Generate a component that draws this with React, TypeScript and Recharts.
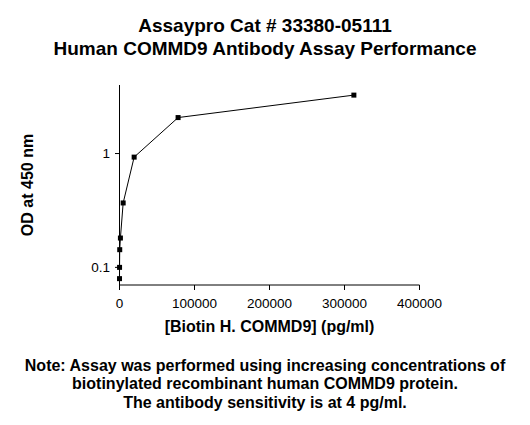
import React from 'react';
import { LineChart, Line, XAxis, YAxis, Label } from 'recharts';

const concentrations = [19, 76, 305, 1221, 4883, 19531, 78125, 312500];
const odValues = [0.0796, 0.1, 0.143, 0.181, 0.368, 0.93, 2.07, 3.26];
const xTicks = [0, 100000, 200000, 300000, 400000];
const yTicks = [0.1, 1];

const titleLines = ['Assaypro Cat # 33380-05111', 'Human COMMD9 Antibody Assay Performance'];
const noteLines = [
  'Note: Assay was performed using increasing concentrations of',
  'biotinylated recombinant human COMMD9 protein.',
  'The antibody sensitivity is at 4 pg/ml.',
];
const xTitle = '[Biotin H. COMMD9] (pg/ml)';
const yTitle = 'OD at 450 nm';

const data = concentrations.map((c, i) => ({ conc: c, od: odValues[i] }));

const FONT = "Arial, 'Liberation Sans', sans-serif";

const SquareDot = (props: any) => {
  const { cx, cy } = props;
  if (cx == null || cy == null) return null;
  return <rect x={cx - 2.5} y={cy - 2.5} width={5} height={5} fill="#000" />;
};

export default function App() {
  return (
    <div style={{ position: 'absolute', left: 0, top: 0, width: 530, height: 425, background: '#fff', fontFamily: FONT }}>
      <div
        style={{
          position: 'absolute', left: 0, top: 13.5, width: 530, textAlign: 'center',
          fontSize: 19, fontWeight: 'bold', lineHeight: '23px', color: '#000',
        }}
      >
        {titleLines.map((t) => (
          <div key={t}>{t}</div>
        ))}
      </div>
      <LineChart
        width={530}
        height={425}
        data={data}
        margin={{ top: 85, right: 110.5, bottom: 110, left: 59.5 }}
      >
        <XAxis
          dataKey="conc"
          type="number"
          domain={[0, 400000]}
          ticks={xTicks}
          height={30}
          axisLine={{ stroke: '#000' }}
          tickLine={{ stroke: '#000' }}
          tickSize={5}
          tickMargin={8}
          tick={{ fill: '#000', fontSize: 13.5, fontFamily: FONT }}
          interval={0}
        >
          <Label
            content={({ viewBox }: any) => (
              <text
                x={viewBox.x + viewBox.width / 2}
                y={331.7}
                textAnchor="middle"
                fontSize={16}
                fontWeight="bold"
                fontFamily={FONT}
                fill="#000"
              >
                {xTitle}
              </text>
            )}
          />
        </XAxis>
        <YAxis
          dataKey="od"
          type="number"
          scale="log"
          domain={[0.07, 4]}
          allowDataOverflow
          ticks={yTicks}
          width={60}
          axisLine={{ stroke: '#000' }}
          tickLine={{ stroke: '#000' }}
          tickSize={4.5}
          tickMargin={5}
          tickFormatter={(v: number) => String(v)}
          tick={{ fill: '#000', fontSize: 13.5, fontFamily: FONT }}
          interval={0}
        >
          <Label
            content={() => (
              <text
                x={33}
                y={185}
                transform="rotate(-90 33 185)"
                textAnchor="middle"
                fontSize={16}
                fontWeight="bold"
                fontFamily={FONT}
                fill="#000"
              >
                {yTitle}
              </text>
            )}
          />
        </YAxis>
        <Line
          type="linear"
          dataKey="od"
          stroke="#000"
          strokeWidth={1}
          dot={<SquareDot />}
          activeDot={false}
          isAnimationActive={false}
        />
      </LineChart>
      <div
        style={{
          position: 'absolute', left: 0, top: 356.5, width: 530, textAlign: 'center',
          fontSize: 16, fontWeight: 'bold', lineHeight: '18.5px', color: '#000',
        }}
      >
        {noteLines.map((t) => (
          <div key={t}>{t}</div>
        ))}
      </div>
    </div>
  );
}
